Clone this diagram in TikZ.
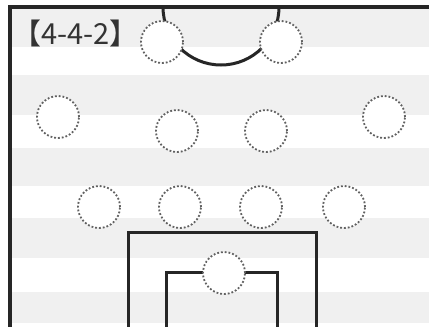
\documentclass[tikz,border=0pt]{standalone}
\usepackage{fontspec}
\newfontfamily\jpfont{Noto Sans CJK JP}
\begin{document}
\begin{tikzpicture}[x=1pt,y=-1pt,
  band/.style={fill=black!6,draw=none},
  fieldline/.style={line width=3pt,draw=black!85},
  player/.style={circle,minimum size=42pt,inner sep=0pt,fill=white,draw=black!62,line width=1.8pt,dash pattern=on 1.8pt off 2pt}]
\useasboundingbox (0,0) rectangle (429,327);
\fill[white] (0,0) rectangle (429,327);
% stripes
\foreach \a/\b in {7/47,75/115,148/186,218/258,292/323}
  \fill[band] (9,\a) rectangle (429,\b);
% frame
\draw[line width=4pt,draw=black!85] (9.5,327) -- (9.5,7) -- (429,7);
% goal arc
\draw[fieldline] (163,7) arc[start angle=180,end angle=0,radius=58];
% penalty boxes
\draw[fieldline] (128,327) -- (128,232) -- (316,232) -- (316,327);
\draw[fieldline] (166,327) -- (166,272) -- (277,272) -- (277,327);
% label
\node[anchor=west,inner sep=0pt,text=black!80] (title) at (12,33)
  {\jpfont\fontsize{29pt}{29pt}\selectfont 【4-4-2】};
% players
\node[player] (fw1) at (162,42) {};
\node[player] (fw2) at (281,42) {};
\node[player] (m1) at (58,117) {};
\node[player] (m2) at (177,131) {};
\node[player] (m3) at (266,131) {};
\node[player] (m4) at (384,117) {};
\node[player] (d1) at (99,207) {};
\node[player] (d2) at (180,207) {};
\node[player] (d3) at (261,207) {};
\node[player] (d4) at (344,207) {};
\node[player] (gk) at (224,273) {};
\end{tikzpicture}
\end{document}
